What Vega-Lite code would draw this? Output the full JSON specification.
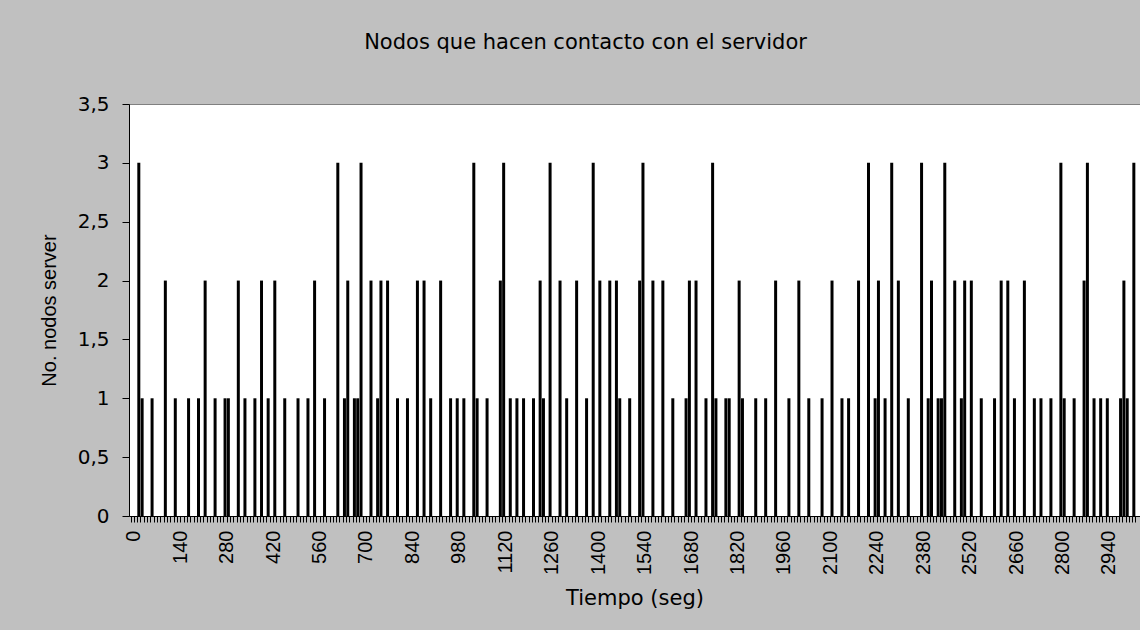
{
  "$schema": "https://vega.github.io/schema/vega-lite/v6.json",
  "autosize": {"type": "none"},
  "padding": {"left": 129, "top": 104, "right": 0, "bottom": 114},
  "width": 1011,
  "height": 412,
  "background": "#c0c0c0",
  "title": {
    "text": "Nodos que hacen contacto con el servidor",
    "font": "DejaVu Sans",
    "fontSize": 21,
    "fontWeight": "normal",
    "color": "#000000",
    "anchor": "middle",
    "baseline": "bottom",
    "offset": 20,
    "dx": -49
  },
  "config": {
    "view": {"fill": "#ffffff", "stroke": "#808080", "strokeWidth": 1}
  },
  "data": {
    "values": [
      {"t": 10, "n": 3}, {"t": 20, "n": 1}, {"t": 50, "n": 1}, {"t": 90, "n": 2},
      {"t": 120, "n": 1}, {"t": 160, "n": 1}, {"t": 190, "n": 1}, {"t": 210, "n": 2},
      {"t": 240, "n": 1}, {"t": 270, "n": 1}, {"t": 280, "n": 1}, {"t": 310, "n": 2},
      {"t": 330, "n": 1}, {"t": 360, "n": 1}, {"t": 380, "n": 2}, {"t": 400, "n": 1},
      {"t": 420, "n": 2}, {"t": 450, "n": 1}, {"t": 490, "n": 1},
      {"t": 520, "n": 1}, {"t": 540, "n": 2}, {"t": 570, "n": 1}, {"t": 610, "n": 3},
      {"t": 630, "n": 1}, {"t": 640, "n": 2}, {"t": 660, "n": 1}, {"t": 670, "n": 1},
      {"t": 680, "n": 3}, {"t": 710, "n": 2}, {"t": 730, "n": 1}, {"t": 740, "n": 2},
      {"t": 760, "n": 2}, {"t": 790, "n": 1}, {"t": 820, "n": 1}, {"t": 850, "n": 2},
      {"t": 870, "n": 2}, {"t": 890, "n": 1}, {"t": 920, "n": 2}, {"t": 950, "n": 1},
      {"t": 970, "n": 1}, {"t": 990, "n": 1},
      {"t": 1020, "n": 3}, {"t": 1030, "n": 1}, {"t": 1060, "n": 1}, {"t": 1100, "n": 2},
      {"t": 1110, "n": 3}, {"t": 1130, "n": 1}, {"t": 1150, "n": 1}, {"t": 1170, "n": 1},
      {"t": 1200, "n": 1}, {"t": 1220, "n": 2}, {"t": 1230, "n": 1}, {"t": 1250, "n": 3},
      {"t": 1280, "n": 2}, {"t": 1300, "n": 1}, {"t": 1330, "n": 2}, {"t": 1360, "n": 1},
      {"t": 1380, "n": 3}, {"t": 1400, "n": 2}, {"t": 1430, "n": 2}, {"t": 1450, "n": 2},
      {"t": 1460, "n": 1}, {"t": 1490, "n": 1},
      {"t": 1520, "n": 2}, {"t": 1530, "n": 3}, {"t": 1560, "n": 2}, {"t": 1590, "n": 2},
      {"t": 1620, "n": 1}, {"t": 1660, "n": 1}, {"t": 1670, "n": 2}, {"t": 1690, "n": 2},
      {"t": 1720, "n": 1}, {"t": 1740, "n": 3}, {"t": 1750, "n": 1}, {"t": 1780, "n": 1},
      {"t": 1790, "n": 1}, {"t": 1820, "n": 2}, {"t": 1830, "n": 1}, {"t": 1870, "n": 1},
      {"t": 1900, "n": 1}, {"t": 1930, "n": 2}, {"t": 1970, "n": 1}, {"t": 2000, "n": 2},
      {"t": 2030, "n": 1}, {"t": 2070, "n": 1}, {"t": 2100, "n": 2}, {"t": 2130, "n": 1},
      {"t": 2150, "n": 1}, {"t": 2180, "n": 2}, {"t": 2210, "n": 3}, {"t": 2230, "n": 1},
      {"t": 2240, "n": 2}, {"t": 2260, "n": 1}, {"t": 2280, "n": 3}, {"t": 2300, "n": 2},
      {"t": 2330, "n": 1}, {"t": 2370, "n": 3}, {"t": 2390, "n": 1}, {"t": 2400, "n": 2},
      {"t": 2420, "n": 1}, {"t": 2430, "n": 1}, {"t": 2440, "n": 3}, {"t": 2470, "n": 2},
      {"t": 2490, "n": 1}, {"t": 2500, "n": 2}, {"t": 2520, "n": 2},
      {"t": 2550, "n": 1}, {"t": 2590, "n": 1}, {"t": 2610, "n": 2}, {"t": 2630, "n": 2},
      {"t": 2650, "n": 1}, {"t": 2680, "n": 2}, {"t": 2710, "n": 1}, {"t": 2730, "n": 1},
      {"t": 2760, "n": 1}, {"t": 2790, "n": 3}, {"t": 2800, "n": 1}, {"t": 2830, "n": 1},
      {"t": 2860, "n": 2}, {"t": 2870, "n": 3}, {"t": 2890, "n": 1}, {"t": 2910, "n": 1},
      {"t": 2930, "n": 1}, {"t": 2970, "n": 1}, {"t": 2980, "n": 2}, {"t": 2990, "n": 1},
      {"t": 3010, "n": 3}
    ]
  },
  "mark": {"type": "bar", "size": 3, "color": "#000000", "clip": true},
  "encoding": {
    "x": {
      "field": "t",
      "type": "quantitative",
      "scale": {"domain": [-4.5, 3013.5], "nice": false, "zero": false},
      "axis": {
        "title": "Tiempo (seg)",
        "titleFont": "DejaVu Sans",
        "titleFontSize": 21,
        "titleFontWeight": "normal",
        "titleColor": "#000000",
        "titlePadding": 13,
        "titleX": 505.5,
        "tickCount": 300,
        "format": "d",
        "labelExpr": "datum.value % 140 === 0 ? format(datum.value, 'd') : ''",
        "labelAngle": -90,
        "labelFont": "Liberation Sans",
        "labelFontSize": 20,
        "labelColor": "#000000",
        "labelPadding": 8,
        "labelOverlap": false,
        "labelFlush": false,
        "labelBound": false,
        "tickSize": 6,
        "tickOffset": -1.675,
        "tickColor": "#000000",
        "domainColor": "#000000",
        "grid": false
      }
    },
    "y": {
      "field": "n",
      "type": "quantitative",
      "scale": {"domain": [0, 3.5], "nice": false},
      "axis": {
        "title": "No. nodos server",
        "titleFont": "Liberation Sans",
        "titleFontSize": 20,
        "titleFontWeight": "normal",
        "titleColor": "#000000",
        "titlePadding": 18,
        "values": [0, 0.5, 1, 1.5, 2, 2.5, 3, 3.5],
        "labelExpr": "replace(format(datum.value, '~g'), '.', ',')",
        "labelFont": "DejaVu Sans",
        "labelFontSize": 20,
        "labelColor": "#000000",
        "labelPadding": 13,
        "tickSize": 7,
        "tickColor": "#000000",
        "domainColor": "#000000",
        "grid": false
      }
    }
  }
}
